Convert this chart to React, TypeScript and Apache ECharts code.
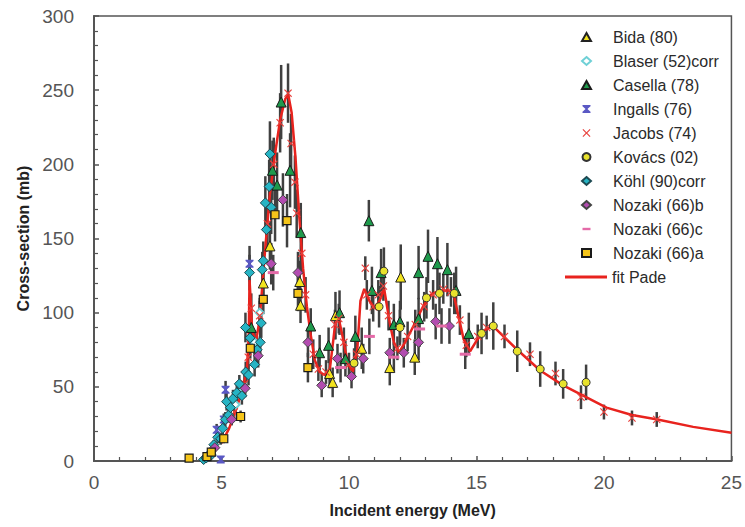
import React, { useEffect, useRef } from 'react';
import * as echarts from 'echarts';

// fit Pade curve (E in MeV, cross-section in mb)
const fitE = [5.0, 5.3, 5.6, 5.85, 6.0, 6.07, 6.1, 6.14, 6.2, 6.35, 6.5, 6.7, 6.9, 7.1, 7.3, 7.5, 7.62, 7.75, 7.9, 8.05, 8.2, 8.35, 8.5, 8.66, 8.85, 9.05, 9.25, 9.43, 9.55, 9.75, 9.95, 10.15, 10.33, 10.45, 10.6, 10.8, 11.0, 11.2, 11.38, 11.6, 11.76, 11.96, 12.2, 12.5, 12.9, 13.2, 13.55, 13.9, 14.1, 14.3, 14.5, 14.75, 15.0, 15.3, 15.65, 16.0, 16.6, 17.5, 18.4, 19.3, 20.1, 21.1, 22.1, 23.5, 25.0];
const fitS = [12, 22, 36, 50, 62, 85, 122, 110, 88, 80, 96, 140, 180, 207, 230, 244, 247, 235, 205, 165, 130, 104, 85, 68, 60, 58, 62, 88, 100, 84, 66, 60, 76, 108, 116, 108, 103, 108, 116, 93, 80, 73, 80, 90, 104, 112, 115, 115, 113, 97, 82, 74, 81, 88, 91, 85, 75, 61, 51, 43, 36, 31, 28, 23, 19];

// [energy, cross-section, error]
const bida = [[6.64, 120, 14], [6.9, 145, 16], [8.07, 121, 14], [8.1, 105, 12], [9.24, 59, 10], [9.36, 53, 10], [9.47, 98, 16], [10.5, 76, 14], [11.6, 63, 12], [12.03, 124, 22], [12.58, 70, 12]];
const blaser = [[5.3, 30, 4], [5.55, 38, 5], [5.85, 48, 6], [6.3, 80, 8], [6.5, 100, 10]];
const casella = [[6.17, 90, 10], [7.0, 196, 20], [7.18, 186, 22], [7.34, 242, 25], [7.69, 196, 25], [8.11, 154, 20], [8.5, 91, 12], [8.85, 73, 12], [9.2, 78, 12], [9.63, 100, 15], [9.86, 69, 12], [10.25, 84, 14], [10.78, 162, 14], [10.9, 115, 16], [11.26, 127, 16], [11.76, 92, 14], [12.0, 94, 14], [12.73, 127, 18], [12.73, 96, 14], [13.1, 138, 18], [13.47, 133, 18], [13.86, 129, 18], [14.2, 115, 16], [14.7, 86, 14]];
const ingalls = [[4.81, 21, 4], [4.97, 1, 2], [5.09, 28, 4], [5.16, 48, 6], [6.1, 133, 12]];
const jacobs = [[5.5, 33, 5], [5.9, 52, 6], [6.05, 70, 8], [6.17, 103, 10], [6.5, 98, 10], [6.8, 160, 15], [7.05, 200, 18], [7.3, 228, 20], [7.61, 248, 20], [7.73, 214, 20], [7.88, 188, 18], [7.95, 167, 16], [8.15, 140, 14], [8.3, 112, 12], [8.6, 72, 10], [8.8, 62, 8], [9.1, 60, 8], [9.45, 92, 10], [9.6, 96, 10], [9.8, 80, 10], [10.0, 65, 8], [10.3, 72, 8], [10.64, 130, 8], [10.7, 112, 10], [10.95, 104, 10], [11.15, 112, 10], [11.35, 118, 10], [11.55, 98, 10], [11.9, 76, 8], [12.3, 84, 10], [12.6, 92, 10], [12.95, 104, 10], [13.3, 112, 10], [13.7, 116, 10], [14.0, 114, 10], [14.35, 95, 10], [14.6, 78, 8], [15.05, 84, 8], [15.4, 90, 8], [16.1, 84, 8], [17.1, 72, 8], [18.1, 59, 8], [19.1, 43, 8], [20.0, 33, 5], [21.1, 29, 5], [22.07, 28, 5]];
const kovacs = [[10.2, 66, 10], [11.18, 104, 14], [11.37, 128, 16], [12.0, 90, 12], [13.04, 110, 14], [13.55, 113, 14], [14.13, 113, 14], [15.2, 86, 14], [15.66, 91, 16], [16.6, 74, 14], [17.5, 62, 12], [18.4, 52, 10], [19.3, 53, 12]];
const kohl = [[4.3, 1, 2], [4.4, 2, 2], [4.55, 5, 3], [4.6, 4, 2], [4.7, 11, 3], [4.85, 16, 4], [4.97, 15, 4], [5.05, 22, 4], [5.15, 28, 5], [5.28, 31, 5], [5.2, 40, 6], [5.35, 36, 5], [5.45, 42, 6], [5.6, 46, 6], [5.7, 52, 6], [5.8, 44, 6], [5.94, 90, 10], [5.95, 60, 7], [6.06, 58, 7], [6.1, 127, 12], [6.12, 83, 9], [6.3, 65, 8], [6.4, 75, 9], [6.52, 80, 9], [6.56, 93, 10], [6.6, 129, 12], [6.64, 135, 13], [6.72, 174, 18], [6.76, 156, 15], [6.87, 185, 18], [6.9, 207, 22], [6.95, 171, 18]];
const nozakiB = [[4.74, 9, 3], [5.4, 28, 4], [5.93, 49, 6], [6.44, 71, 8], [6.95, 133, 14], [7.41, 176, 18], [8.0, 127, 14], [8.39, 80, 10], [8.93, 51, 8], [9.55, 69, 10], [10.1, 57, 8], [10.56, 69, 10], [11.6, 73, 10], [12.15, 73, 10], [12.73, 80, 12], [13.4, 94, 12], [13.94, 91, 12]];
const nozakiC = [[7.03, 127, 12], [9.67, 63, 10], [10.8, 84, 12], [11.76, 70, 10], [12.77, 89, 12], [13.63, 91, 12], [14.56, 72, 10]];
const nozakiA = [[3.73, 2, 2], [4.43, 3, 2], [4.6, 6, 2], [5.09, 15, 3], [5.75, 30, 4], [6.13, 76, 7], [6.64, 109, 10], [7.1, 166, 18], [7.57, 162, 18], [8.0, 113, 12], [8.39, 63, 10]];

const xTicks = [0, 5, 10, 15, 20, 25];
const yTicks = [0, 50, 100, 150, 200, 250, 300];

const X_PATH = 'path://M0,1L1,0L5,4L9,0L10,1L6,5L10,9L9,10L5,6L1,10L0,9L4,5Z';
const HOUR_PATH = 'path://M0,0L10,0L10,1.5L6.2,5L10,8.5L10,10L0,10L0,8.5L3.8,5L0,1.5Z';
const DASH_ICON = 'path://M0,0M10,10M0,3.5L10,3.5L10,6.5L0,6.5Z';

export default function App() {
  const ref = useRef<HTMLDivElement>(null);
  useEffect(() => {
    const chart = echarts.init(ref.current!, null, { renderer: 'svg' });
    const defs: any[] = [
      { name: 'Bida (80)', data: bida, symbol: 'triangle', size: 10, color: '#f3e41e', border: '#222', bw: 1 },
      { name: 'Blaser (52)corr', data: blaser, symbol: 'emptyDiamond', size: 8, color: '#6fd0d6', border: '#6fd0d6', bw: 1.5 },
      { name: 'Casella (78)', data: casella, symbol: 'triangle', size: 10, color: '#1e9a4c', border: '#1a1a1a', bw: 1 },
      { name: 'Ingalls (76)', data: ingalls, symbol: HOUR_PATH, size: 8, color: '#5a58c4', border: '#5a58c4', bw: 0 },
      { name: 'Jacobs (74)', data: jacobs, symbol: X_PATH, size: 8, color: '#e8403c', border: '#e8403c', bw: 0 },
      { name: 'Kovács (02)', data: kovacs, symbol: 'circle', size: 8, color: '#e8e22c', border: '#333', bw: 1 },
      { name: 'Köhl (90)corr', data: kohl, symbol: 'diamond', size: 10, color: '#26b4c4', border: '#1d4a52', bw: 1 },
      { name: 'Nozaki (66)b', data: nozakiB, symbol: 'diamond', size: 10, color: '#b24cb0', border: '#444', bw: 1 },
      { name: 'Nozaki (66)c', data: nozakiC, symbol: 'rect', size: [11, 3], color: '#e46aa8', border: '#e46aa8', bw: 0, icon: DASH_ICON },
      { name: 'Nozaki (66)a', data: nozakiA, symbol: 'rect', size: 8, color: '#f5c51a', border: '#1a1a1a', bw: 1.2 },
    ];
    const series: any[] = [];
    defs.forEach((d) => {
      series.push({
        type: 'custom',
        name: d.name + ' error',
        silent: true,
        z: 1,
        data: d.data.map((p: number[]) => [p[0], Math.max(0, p[1] - p[2]), p[1] + p[2]]),
        encode: { x: 0, y: [1, 2] },
        renderItem: (params: any, api: any) => {
          const a = api.coord([api.value(0), api.value(1)]);
          const b = api.coord([api.value(0), api.value(2)]);
          return {
            type: 'line',
            shape: { x1: a[0], y1: a[1], x2: b[0], y2: b[1] },
            style: { stroke: '#404040', lineWidth: 2.5 },
          };
        },
      });
    });
    series.push({
      type: 'line',
      name: 'fit Pade',
      data: fitE.map((e, i) => [e, fitS[i]]),
      symbol: 'none',
      showSymbol: false,
      lineStyle: { color: '#e8231e', width: 2.5 },
      itemStyle: { color: '#e8231e' },
      z: 2,
    });
    defs.forEach((d) => {
      series.push({
        type: 'scatter',
        name: d.name,
        data: d.data.map((p: number[]) => [p[0], p[1]]),
        symbol: d.symbol,
        symbolSize: d.size,
        itemStyle: { color: d.color, borderColor: d.border, borderWidth: d.bw, opacity: 1 },
        z: 3,
      });
    });

    const labelFont = "'Liberation Sans Narrow', 'Arial Narrow', 'Liberation Sans', Arial, sans-serif";
    const textFont = "'Liberation Sans', Arial, sans-serif";
    chart.setOption({
      animation: false,
      backgroundColor: '#ffffff',
      grid: { left: 94, right: 7, top: 16, bottom: 66, show: true, borderColor: '#555', borderWidth: 1.5 },
      legend: [
        {
          orient: 'vertical',
          left: 581,
          top: 29,
          padding: 0,
          itemWidth: 9,
          itemHeight: 8,
          itemGap: 8,
          textStyle: { fontSize: 16, color: '#2a2a2a', fontFamily: textFont, padding: [0, 0, 0, 17] },
          data: defs.map((d) => (d.icon ? { name: d.name, icon: d.icon } : { name: d.name })),
        },
        {
          orient: 'vertical',
          left: 565,
          top: 269,
          padding: 0,
          itemWidth: 42,
          itemHeight: 3,
          textStyle: { fontSize: 16, color: '#2a2a2a', fontFamily: textFont },
          data: [{ name: 'fit Pade', icon: 'rect' }],
        },
      ],
      xAxis: {
        type: 'value',
        min: xTicks[0],
        max: xTicks[xTicks.length - 1],
        interval: 5,
        axisLine: { show: true, lineStyle: { color: '#555', width: 2 } },
        axisTick: { show: true, inside: true, length: 5, lineStyle: { color: '#555', width: 1.5 } },
        minorTick: { show: true, splitNumber: 5, length: 4, lineStyle: { color: '#555', width: 1.2 } },
        splitLine: { show: false },
        axisLabel: { fontSize: 19, color: '#555', fontFamily: labelFont, margin: 12 },
        name: 'Incident energy (MeV)',
        nameLocation: 'middle',
        nameGap: 41,
        nameTextStyle: { fontSize: 16, fontWeight: 'bold', color: '#222', fontFamily: textFont },
      },
      yAxis: {
        type: 'value',
        min: yTicks[0],
        max: yTicks[yTicks.length - 1],
        interval: 50,
        axisLine: { show: true, lineStyle: { color: '#555', width: 2 } },
        axisTick: { show: true, inside: true, length: 5, lineStyle: { color: '#555', width: 1.5 } },
        minorTick: { show: true, splitNumber: 5, length: 4, lineStyle: { color: '#555', width: 1.2 } },
        splitLine: { show: false },
        axisLabel: { fontSize: 19, color: '#555', fontFamily: labelFont, margin: 20 },
        name: 'Cross-section (mb)',
        nameLocation: 'middle',
        nameRotate: 90,
        nameGap: 56,
        nameTextStyle: { fontSize: 16, fontWeight: 'bold', color: '#222', fontFamily: textFont },
      },
      series,
    });
    return () => chart.dispose();
  }, []);
  return <div ref={ref} style={{ position: 'fixed', left: 0, top: 0, width: 745, height: 527, background: '#fff' }} />;
}
